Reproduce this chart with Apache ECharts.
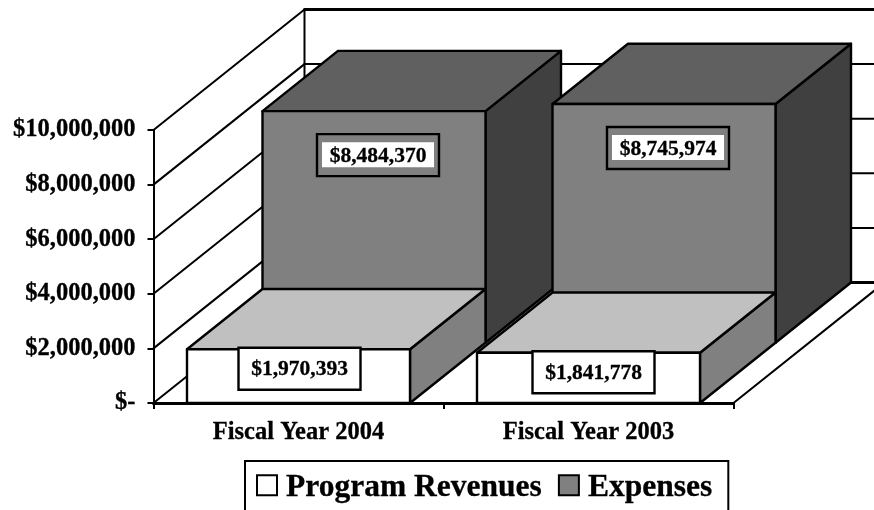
<!DOCTYPE html>
<html>
<head>
<meta charset="utf-8">
<style>html,body{margin:0;padding:0;background:#fff;overflow:hidden}#c{width:874px;height:510px}</style>
<script src="https://cdn.jsdelivr.net/npm/echarts@6/dist/echarts.min.js"></script>
</head>
<body>
<div id="c"></div>
<script>
var categories = ['Fiscal Year 2004', 'Fiscal Year 2003'];
var programRevenues = [1970393, 1841778];
var expenses = [8484370, 8745974];
var yTicks = [0, 2000000, 4000000, 6000000, 8000000, 10000000];
var seriesNames = ['Program Revenues', 'Expenses'];

var FONT = '"Liberation Serif","Times New Roman",serif';
var DEPTH_X = 75.5, DEPTH_Y = -60.25, BAR_RATIO = 223 / 290;
var faces = [
  {front:'#ffffff', top:'#c0c0c0', side:'#808080', labelFill:'#ffffff', dy:19.5, dx:[1,5]},
  {front:'#808080', top:'#606060', side:'#404040', labelFill:'#808080', dy:44,   dx:[4,4]}
];
function money(v){ return '$' + String(v).replace(/\B(?=(\d{3})+$)/g, ','); }
function poly(pts, fill){
  return {type:'polygon', shape:{points:pts},
    style:{fill:fill, stroke:'#000', lineWidth:2.4, lineJoin:'round'}};
}
function line(a, b, w){
  return {type:'line', shape:{x1:a[0],y1:a[1],x2:b[0],y2:b[1]}, style:{stroke:'#000', lineWidth:w, lineCap:'round'}};
}
function barItem(row){
  return function(params, api){
    var idx = api.value(0), val = api.value(1), f = faces[row];
    var zero = api.coord([idx, 0]), top = api.coord([idx, val]);
    var w = api.size([1, 0])[0] * BAR_RATIO;
    var ox = row * DEPTH_X, oy = row * DEPTH_Y;
    var l = zero[0] - w/2 + ox, r = zero[0] + w/2 + ox;
    var b = zero[1] + oy, t = top[1] + oy;
    var dx = DEPTH_X, dy = DEPTH_Y;
    var cx = (l + r)/2 + f.dx[idx], cy = t + f.dy;
    var text = money(val);
    return {type:'group', children:[
      poly([[r,t],[r+dx,t+dy],[r+dx,b+dy],[r,b]], f.side),
      poly([[l,t],[l+dx,t+dy],[r+dx,t+dy],[r,t]], f.top),
      poly([[l,t],[r,t],[r,b],[l,b]], f.front),
      {type:'rect', shape:{x:cx-61, y:cy-21, width:122, height:42},
        style:{fill:f.labelFill, stroke:'#000', lineWidth:2.4}},
      {type:'rect', shape:{x:cx-56, y:cy-13, width:112, height:25}, style:{fill:'#fff'}},
      {type:'text', x:cx, y:cy+1, style:{text:text, fill:'#000', align:'center', verticalAlign:'middle',
        font:'bold 21.5px '+FONT, stroke:'#000', lineWidth:0.3}}
    ]};
  };
}
function wallItem(params, api){
  var v = api.value(1), p = api.coord([0, v]);
  var cs = params.coordSys;
  var x0 = cs.x, x1 = cs.x + cs.width, y = p[1];
  var bx = x0 + 151, by = y - 120.5;
  var maxTick = yTicks[yTicks.length - 1];
  var kids = [
    line([x0,y],[bx,by], 2),
    line([bx,by],[x1+151,by], v === maxTick || v === 0 ? 3 : 2)
  ];
  if (v === maxTick) kids.push(line([bx,by],[bx,by+cs.height], 2));
  if (v === 0) kids.push(line([x1,y],[x1+151,by], 2));
  return {type:'group', children:kids};
}

var chart = echarts.init(document.getElementById('c'), null, {renderer:'canvas'});
chart.setOption({
  animation:false,
  backgroundColor:'#fff',
  grid:{left:153.5, top:130, width:580, height:273, containLabel:false},
  legend:{
    data:seriesNames, left:245, top:461, orient:'horizontal',
    icon:'path://M0 0L20 0L20 20L0 20ZM0 26L0 26',
    backgroundColor:'#fff', borderColor:'#000', borderWidth:2, padding:[11,16,27,11],
    itemWidth:20, itemHeight:26, itemGap:16,
    textStyle:{fontFamily:FONT, fontWeight:'bold', fontSize:31.5, color:'#000', padding:[0,0,0,4],
      textBorderColor:'#000', textBorderWidth:0.3}
  },
  xAxis:{
    type:'category', data:categories, boundaryGap:true,
    axisLine:{lineStyle:{color:'#000', width:3}},
    axisTick:{show:true, alignWithLabel:false, length:6, lineStyle:{color:'#000', width:2}},
    axisLabel:{fontFamily:FONT, fontWeight:'bold', fontSize:24.5, color:'#000', margin:17, interval:0,
      textBorderColor:'#000', textBorderWidth:0.3}
  },
  yAxis:{
    type:'value', min:0, max:10000000, interval:2000000,
    splitLine:{show:false},
    axisLine:{show:true, lineStyle:{color:'#000', width:2}},
    axisTick:{show:true, length:6, lineStyle:{color:'#000', width:2}},
    axisLabel:{fontFamily:FONT, fontWeight:'bold', fontSize:24.5, color:'#000', margin:18, padding:[5,0,0,0],
      textBorderColor:'#000', textBorderWidth:0.3,
      formatter:function(v){ return v === 0 ? '$-' : money(v); }}
  },
  series:[
    {name:'walls', type:'custom', z:1, renderItem:wallItem, silent:true,
      data:yTicks.map(function(v){ return [0, v]; }), encode:{x:0, y:1}},
    {name:seriesNames[1], type:'custom', z:2, renderItem:barItem(1),
      itemStyle:{color:'#808080', borderColor:'#000', borderWidth:2},
      data:expenses.map(function(v,i){ return [i, v]; }), encode:{x:0, y:1}},
    {name:seriesNames[0], type:'custom', z:3, renderItem:barItem(0),
      itemStyle:{color:'#ffffff', borderColor:'#000', borderWidth:2},
      data:programRevenues.map(function(v,i){ return [i, v]; }), encode:{x:0, y:1}}
  ]
});
</script>
</body>
</html>
